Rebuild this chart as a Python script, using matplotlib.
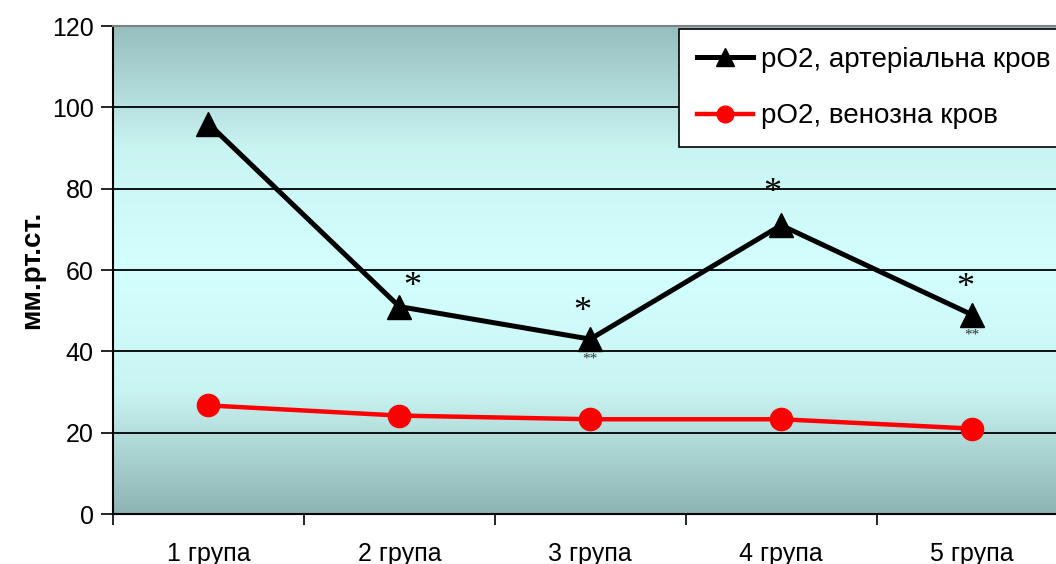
import numpy as np
import matplotlib.pyplot as plt
from matplotlib.colors import LinearSegmentedColormap

plt.rcParams['font.family'] = ['Liberation Sans', 'DejaVu Sans']

groups = ["1 група", "2 група", "3 група", "4 група", "5 група"]
po2_art = [96, 51, 43, 71, 49]
po2_ven = [26.7, 24.2, 23.3, 23.3, 21.0]
# значимість: * над точкою, ** під точкою (артеріальна кров)
sig_top = ["", "*", "*", "*", "*"]
sig_bottom = ["", "", "**", "", "**"]
# зсуви підписів зірочок (у пунктах)
star_dx = [0, 9, -6, -6, -5]
star_dy = [0, 14, 19, 23, 19]

x = np.arange(1, len(groups) + 1)

fig = plt.figure(figsize=(10.56, 5.64), dpi=100)
ax = fig.add_axes([113 / 1056, 50 / 564, 1 - 113 / 1056, 488 / 564])

# градієнтний фон: темніший зверху і знизу, світлий у центрі
cmap = LinearSegmentedColormap.from_list(
    "bg", ["#8cb4b2", "#c8f4f2", "#d4ffff", "#c8f4f2", "#96bebe"])
grad = np.linspace(0, 1, 256).reshape(-1, 1)
ax.imshow(grad, cmap=cmap, aspect="auto", extent=[0.5, 5.44, 120, 0],
          zorder=0, interpolation="bilinear")

ax.set_xlim(0.5, 5.44)
ax.set_ylim(0, 120)

for yv in range(20, 120, 20):
    ax.axhline(yv, color="black", linewidth=1.3, zorder=1)

ax.plot(x, po2_art, color="black", linewidth=3.6, marker="^", markersize=17,
        label="pO2, артеріальна кров", zorder=3)
ax.plot(x, po2_ven, color="red", linewidth=3.2, marker="o", markersize=16,
        label="pO2, венозна кров", zorder=3)

for xi, yi, s, dx, dy in zip(x, po2_art, sig_top, star_dx, star_dy):
    if s:
        ax.annotate(s, (xi, yi), xytext=(dx, dy), textcoords="offset points",
                    ha="center", va="center", fontsize=26,
                    family="Liberation Serif", zorder=4)
for xi, yi, s in zip(x, po2_art, sig_bottom):
    if s:
        ax.annotate(s, (xi, yi), xytext=(0, -10), textcoords="offset points",
                    ha="center", va="top", fontsize=11, color="#333333",
                    family="Liberation Serif", zorder=4)

ax.set_yticks(range(0, 121, 20))
ax.set_xticks(x)
ax.set_xticklabels(groups)
ax.set_xticks(np.arange(0.5, 5.5, 1), minor=True)
ax.tick_params(axis="x", which="major", length=0, pad=20, labelsize=18)
ax.tick_params(axis="x", which="minor", length=8, width=1.2, direction="out")
ax.tick_params(axis="y", length=9, width=1.2, direction="out", labelsize=18, pad=5)

ax.set_ylabel("мм.рт.ст.", fontsize=20, fontweight="bold", labelpad=5)

ax.spines["right"].set_visible(False)
ax.spines["left"].set_linewidth(1.5)
ax.spines["bottom"].set_linewidth(1.5)
ax.spines["top"].set_color("#808080")
ax.spines["top"].set_linewidth(1.5)

leg = ax.legend(loc="upper left", bbox_to_anchor=(0.5975, 1.0), fontsize=20,
                frameon=True, fancybox=False, edgecolor="black",
                framealpha=1, handlelength=2.0, handletextpad=0.3,
                borderpad=0.65, labelspacing=1.1, borderaxespad=0.1,
                markerscale=0.75)
leg.get_frame().set_linewidth(1.2)

fig.savefig("out.png", dpi=100)
